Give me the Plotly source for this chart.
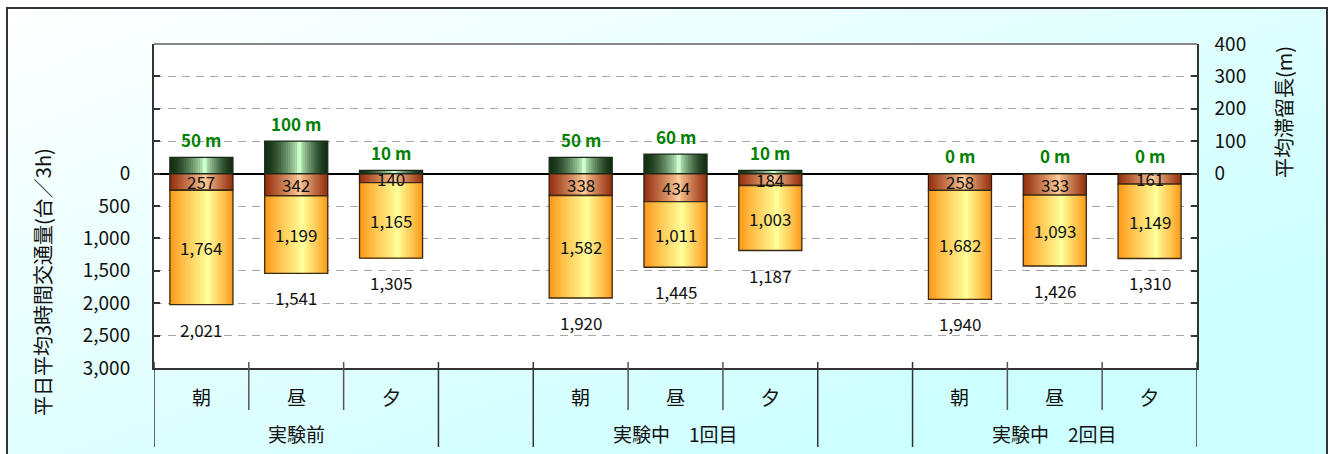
import base64
import plotly.graph_objects as go

# ---------------- data ----------------
periods = ["朝", "昼", "夕"]
groups = ["実験前", "実験中　1回目", "実験中　2回目"]
queue_m = [50, 100, 10, 50, 60, 10, 0, 0, 0]                       # 平均滞留長 (m)
vol_upper = [257, 342, 140, 338, 434, 184, 258, 333, 161]          # upper (brown) segment
vol_lower = [1764, 1199, 1165, 1582, 1011, 1003, 1682, 1093, 1149]  # lower (orange) segment
vol_total = [2021, 1541, 1305, 1920, 1445, 1187, 1940, 1426, 1310]
left_ticks = [0, 500, 1000, 1500, 2000, 2500, 3000]
right_ticks = [0, 100, 200, 300, 400]

# ---------------- layout geometry ----------------
W, H = 1331, 454
ML, MR, MT, MB = 154, 134, 44, 86
PW, PH = W - ML - MR, H - MT - MB
FONT = "Noto Sans CJK JP"
BW = 0.665

slots_per_group = len(periods) + 1
xs = [g * slots_per_group + p for g in range(len(groups)) for p in range(len(periods))]
x_max = (len(groups) - 1) * slots_per_group + len(periods) - 1


def hex2rgb(h):
    h = h.lstrip("#")
    return tuple(int(h[i:i + 2], 16) for i in (0, 2, 4))


def mix(c1, c2, t):
    a, b = hex2rgb(c1), hex2rgb(c2)
    return "rgb(%d,%d,%d)" % tuple(round(a[i] + (b[i] - a[i]) * t) for i in range(3))


def gradient_bars(y, base, yaxis, edge, center, peak, line_color, gamma=0.9, n=16):
    traces = []
    for k in range(n):
        t = k / (n - 1)
        s = 1 - t
        lo = peak - peak * s
        hi = peak + (1 - peak) * s
        if k == n - 1:
            lo, hi = peak - 0.03, peak + 0.03
        traces.append(go.Bar(
            x=xs, y=y, base=base, yaxis=yaxis,
            width=(hi - lo) * BW, offset=(lo - 0.5) * BW,
            marker=dict(color=mix(edge, center, t ** gamma), line=dict(width=0)),
            hoverinfo="skip", showlegend=False,
        ))
    traces.append(go.Bar(
        x=xs, y=y, base=base, yaxis=yaxis, width=BW,
        marker=dict(color="rgba(0,0,0,0)", line=dict(width=1.3, color=line_color)),
        hoverinfo="skip", showlegend=False,
    ))
    return traces


fig = go.Figure()
for tr in gradient_bars(queue_m, [0] * len(xs), "y2", "#143014", "#ccffcc", 0.55, "#1a2a1a", gamma=1.5):
    fig.add_trace(tr)
for tr in gradient_bars(vol_upper, [0] * len(xs), "y", "#993311", "#ffcc99", 0.55, "#2a1a10", gamma=1.1):
    fig.add_trace(tr)
for tr in gradient_bars(vol_lower, vol_upper, "y", "#ff9a1a", "#ffff99", 0.6, "#3a2a10", gamma=0.9):
    fig.add_trace(tr)

annotations = []
for x, u, lo, tot, q in zip(xs, vol_upper, vol_lower, vol_total, queue_m):
    annotations.append(dict(x=x, y=u / 2, xref="x", yref="y", text=f"{u:,}", showarrow=False,
                            yanchor="middle", font=dict(size=17, color="#111", family=FONT)))
    annotations.append(dict(x=x, y=u + lo / 2, xref="x", yref="y", text=f"{lo:,}", showarrow=False,
                            yanchor="middle", font=dict(size=17, color="#111", family=FONT)))
    annotations.append(dict(x=x, y=tot, xref="x", yref="y", text=f"{tot:,}", showarrow=False,
                            yanchor="middle", yshift=-24.5, font=dict(size=17, color="#111", family=FONT)))
    annotations.append(dict(x=x, y=q, xref="x", yref="y2", text=f"<b>{q} m</b>", showarrow=False,
                            yanchor="middle", yshift=18,
                            font=dict(size=17, color="#008000", family=FONT)))

# category axis labels
for i, x in enumerate(xs):
    annotations.append(dict(x=x, y=-28 / PH, xref="x", yref="paper", xanchor="center", yanchor="middle",
                            text=periods[i % len(periods)], showarrow=False,
                            font=dict(size=19, color="#111", family=FONT)))
for g, name in enumerate(groups):
    annotations.append(dict(x=g * slots_per_group + (len(periods) - 1) / 2, y=-65 / PH,
                            xref="x", yref="paper", xanchor="center", yanchor="middle",
                            text=name, showarrow=False,
                            font=dict(size=19, color="#111", family=FONT)))

# axis titles
annotations.append(dict(x=(42 - ML) / PW, y=(MT + PH - 282) / PH, xref="paper", yref="paper",
                        xanchor="center", yanchor="middle",
                        text="平日平均3時間交通量(台／3h)", textangle=-90, showarrow=False,
                        font=dict(size=20, color="#111", family=FONT)))
annotations.append(dict(x=(1283 - ML) / PW, y=(MT + PH - 112) / PH, xref="paper", yref="paper",
                        xanchor="center", yanchor="middle",
                        text="平均滞留長(m)", textangle=-90, showarrow=False,
                        font=dict(size=20, color="#111", family=FONT)))

# divider lines in the category area
shapes = []
short_y0, short_y1 = 6 / PH, -42 / PH
long_y1 = -79 / PH
for g in range(len(groups)):
    left = g * slots_per_group - 0.5
    right = g * slots_per_group + len(periods) - 0.5
    for xx in (left, right):
        shapes.append(dict(type="line", xref="x", yref="paper", x0=xx, x1=xx, y0=short_y0, y1=long_y1,
                           line=dict(color="#333", width=1.5)))
    for p in range(1, len(periods)):
        xx = g * slots_per_group + p - 0.5
        shapes.append(dict(type="line", xref="x", yref="paper", x0=xx, x1=xx, y0=short_y0, y1=short_y1,
                           line=dict(color="#555", width=1.5)))
shapes.append(dict(type="line", xref="paper", yref="paper", x0=0, x1=1, y0=1, y1=1,
                   line=dict(color="#888", width=2)))

# background (gradient frame) as SVG image
svg = f'''<svg xmlns="http://www.w3.org/2000/svg" width="{W}" height="{H}" viewBox="0 0 {W} {H}">
<defs><linearGradient id="g" x1="0" y1="0" x2="1" y2="1">
<stop offset="0" stop-color="#ffffff"/><stop offset="0.8" stop-color="#ccffff"/><stop offset="1" stop-color="#ccffff"/>
</linearGradient></defs>
<rect width="{W}" height="{H}" fill="#ffffff"/>
<rect x="7" y="8" width="1320" height="470" fill="url(#g)" stroke="#333333" stroke-width="2"/>
<rect x="{ML}" y="{MT}" width="{PW}" height="{PH}" fill="#ffffff"/>
</svg>'''
src = "data:image/svg+xml;base64," + base64.b64encode(svg.encode()).decode()

fig.update_layout(
    width=W, height=H,
    margin=dict(l=ML, r=MR, t=MT, b=MB, pad=0),
    barmode="overlay",
    paper_bgcolor="white", plot_bgcolor="white",
    font=dict(family=FONT, color="#111"),
    showlegend=False,
    annotations=annotations,
    shapes=shapes,
    images=[dict(source=src, xref="paper", yref="paper", x=-ML / PW, y=1 + MT / PH,
                 sizex=W / PW, sizey=H / PH, xanchor="left", yanchor="top",
                 sizing="stretch", layer="below")],
    xaxis=dict(range=[-0.5, x_max + 0.5], showticklabels=False, showgrid=False, zeroline=False,
               showline=True, linecolor="#333", linewidth=2, ticks="", fixedrange=True),
    yaxis=dict(range=[3000, -2000],
               tickvals=list(range(-2000, 3001, 500)),
               ticktext=["" if v < 0 else f"{v:,}" for v in range(-2000, 3001, 500)],
               ticks="inside", ticklen=6, tickwidth=1.5, tickcolor="#333",
               showline=True, linecolor="#333", linewidth=2,
               showgrid=True, gridcolor="#a8a8a8", gridwidth=1, griddash="8px,6px",
               zeroline=True, zerolinecolor="#000", zerolinewidth=1.5,
               tickfont=dict(size=19, color="#111", family=FONT), ticklabelstandoff=18),
    yaxis2=dict(range=[-600, 400], overlaying="y", side="right",
                tickvals=list(range(-600, 401, 100)),
                ticktext=["" if v < 0 else str(v) for v in range(-600, 401, 100)],
                ticks="inside", ticklen=6, tickwidth=1.5, tickcolor="#333",
                showline=True, linecolor="#333", linewidth=1.5,
                showgrid=False, zeroline=False,
                tickfont=dict(size=19, color="#111", family=FONT), ticklabelstandoff=12),
)

fig.write_html("out.html", config={"displayModeBar": False},
               post_script="document.body.style.margin='0px';")
